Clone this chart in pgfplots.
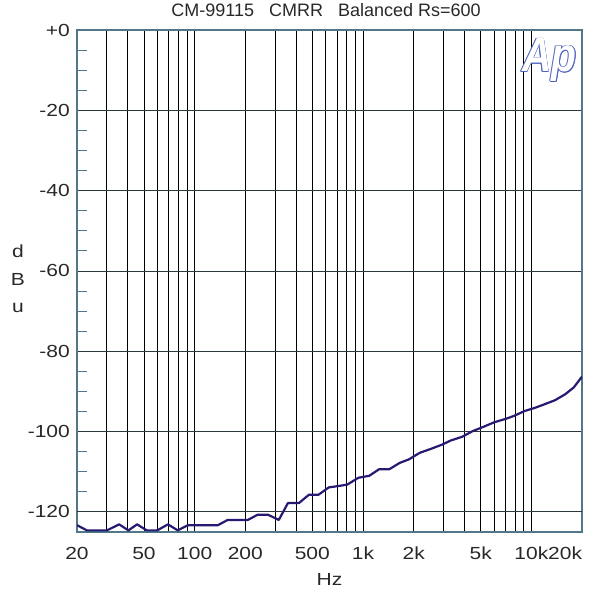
\documentclass[border=0pt]{standalone}
\usepackage{fontspec}
\setmainfont{Liberation Sans}
\newfontfamily\tickfont{Liberation Sans}[FakeStretch=1.2]
\newfontfamily\logofont{Liberation Sans}[FakeStretch=0.85]
\usepackage{pgfplots}
\pgfplotsset{compat=1.18}
\definecolor{framecol}{RGB}{80,120,135}
\definecolor{gridcol}{RGB}{45,55,60}
\definecolor{curvecol}{RGB}{40,25,115}
\definecolor{logocol}{RGB}{80,100,190}
\definecolor{txtcol}{RGB}{40,40,40}
\newcommand\logotext{\logofont\bfseries\itshape\fontsize{48bp}{50bp}\selectfont Ap}
\begin{document}
\begin{tikzpicture}
\path[use as bounding box] (0,0) rectangle (592bp,594bp);
\begin{axis}[
  at={(77bp,62bp)}, anchor=south west,
  scale only axis, width=505bp, height=502bp,
  xmode=log, xmin=20, xmax=20000, ymin=-125, ymax=0,
  axis line style={draw=framecol, line width=1.5bp},
  xtick={20,30,40,50,60,70,80,90,100,200,300,400,500,600,700,800,900,1000,2000,3000,4000,5000,6000,7000,8000,9000,10000,20000},
  xticklabels={20,,,50,,,,,100,200,,,500,,,,,1k,2k,,,5k,,,,,10k,\makebox[0pt][r]{20k}},
  xtick style={draw=none},
  xminorticks=false,
  ytick={-100,-80,-60,-40,-20,0},
  yticklabels={-100,-80,-60,-40,-20,+0},
  extra y ticks={-120},
  extra y tick labels={-120},
  extra y tick style={grid style={draw=framecol, line width=1.2bp}},
  minor ytick={-115,-110,-105,-95,-90,-85,-75,-70,-65,-55,-50,-45,-35,-30,-25,-15,-10,-5},
  ytick pos=left, tick align=inside,
  major tick length=0pt, minor tick length=10bp,
  ytick style={draw=framecol, line width=1bp},
  xmajorgrids, ymajorgrids,
  major x grid style={draw=black, line width=0.75bp},
  major y grid style={draw=gridcol, line width=0.9bp},
  xticklabel style={font=\tickfont\fontsize{17.5bp}{20bp}\selectfont, text=txtcol, anchor=north, inner sep=0pt, yshift=-15bp},
  yticklabel style={font=\tickfont\fontsize{17.5bp}{20bp}\selectfont, text=txtcol, anchor=east, inner sep=0pt, xshift=-7bp},
  title={CM-99115\hspace{15bp}CMRR\hspace{15bp}Balanced Rs=600},
  title style={font=\fontsize{18bp}{20bp}\selectfont, text=txtcol, at={(axis description cs:0.5,1)}, anchor=south, inner sep=0pt, yshift=7bp, xshift=-3.5bp},
  xlabel={Hz},
  xlabel style={font=\tickfont\fontsize{17.5bp}{20bp}\selectfont, text=txtcol, at={(axis description cs:0.5,0)}, anchor=north, inner sep=0pt, yshift=-41bp},
  ylabel={d\\B\\u},
  ylabel style={font=\tickfont\fontsize{17.5bp}{27.5bp}\selectfont, text=txtcol, align=center, rotate=-90, at={(axis description cs:0,0.5)}, anchor=center, inner sep=0pt, xshift=-59bp, yshift=2bp},
  clip=true,
]
\addplot[curvecol, line width=2.2bp, line join=round] coordinates {
(20,-123.3) (22.9,-124.6) (26.3,-124.6) (30.1,-124.6) (35.6,-123.1) (40.4,-124.6)
(45.5,-123.1) (52.0,-124.6) (59.9,-124.6) (69.4,-123.1) (79.4,-124.6) (91.1,-123.3)
(105,-123.3) (120,-123.3) (137.5,-123.3) (157,-122.0) (180,-122.0) (207,-122.0)
(236.5,-120.7) (273,-120.7) (316,-122.0) (358,-117.8) (416,-117.8) (478,-115.7)
(545,-115.7) (626,-113.9) (702,-113.6) (806,-113.2) (938,-111.5) (1090,-111.0)
(1243,-109.4) (1429,-109.4) (1651,-107.8) (1877,-106.9) (2169,-105.3) (2569,-104.2)
(2968,-103.2) (3328,-102.2) (3878,-101.3) (4474,-99.9) (5201,-98.8) (6000,-97.7)
(7075,-96.8) (7884,-96.1) (9084,-94.9) (10470,-94.1) (11970,-93.2) (13800,-92.2)
(15900,-90.7) (17870,-89.0) (20000,-86.3)
};
\end{axis}
\foreach \dx/\dy in {0.7/0,-0.7/0,0/0.7,0/-0.7,0.5/0.5,-0.5/0.5,0.5/-0.5,-0.5/-0.5}{
  \node[anchor=base west, inner sep=0pt, text=logocol] at ([xshift=\dx bp, yshift=\dy bp]522bp,522bp) {\logotext};
}
\node[anchor=base west, inner sep=0pt, text=white] at (522bp,522bp) {\logotext};
\end{tikzpicture}
\end{document}
